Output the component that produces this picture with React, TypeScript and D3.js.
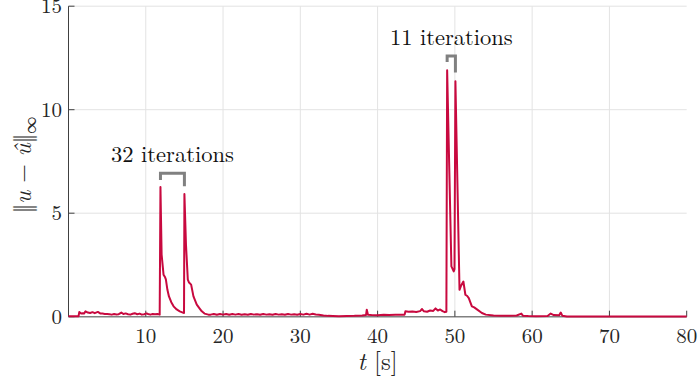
import React from "react";
import * as d3 from "d3";

const time = [
  0, 1.3, 1.4, 1.6, 1.8, 2.0, 2.2, 2.5, 2.8, 3.1, 3.4, 3.8, 4.1, 4.4, 4.7, 5.0, 5.3, 5.6, 5.9, 6.2, 6.5, 6.84, 7.1, 7.4, 7.7, 8.0, 8.3, 8.57, 8.9, 9.2, 9.5, 9.8, 10.1, 10.3, 10.6, 10.9, 11.2, 11.5, 11.8,
  11.9, 12.05, 12.3, 12.5, 12.6, 12.8, 13.0, 13.3, 13.6, 14.0, 14.4, 14.8, 14.95,
  15.0, 15.2, 15.44, 15.6, 15.87, 16.17, 16.6, 17.0, 17.25, 17.6, 18.1,
  18.4, 18.8, 19.2, 19.6, 20.0, 20.4, 20.8, 21.2, 21.6, 22.0, 22.4, 22.8, 23.2, 23.6, 24.0, 24.4, 24.8, 25.2, 25.6, 26.0, 26.4, 26.8, 27.2, 27.6, 28.0, 28.4, 28.8, 29.2, 29.6, 30.0, 30.4, 30.8, 31.2, 31.6, 32.0, 32.4,
  33.0, 33.6, 34.2, 35, 36, 37, 38, 38.5, 38.6, 38.75, 39.2, 40, 40.8, 41.5, 42.3, 43, 43.5,
  43.6, 44, 44.5, 45, 45.5, 45.75, 46, 46.4, 46.8, 47.2, 47.5, 47.8, 48.1, 48.4, 48.7, 48.9,
  49.0, 49.55, 49.85, 49.95, 50.07, 50.6, 50.8, 51.1, 51.36, 51.6, 51.8, 52.2, 52.5, 52.9, 53.5, 54, 55, 56, 57, 58, 58.6, 58.8, 59.5, 60.5, 62, 62.4, 62.8, 63.5, 63.7, 63.9, 64.5, 80,
];

const err = [
  0.02, 0.02, 0.23, 0.16, 0.17, 0.15, 0.26, 0.2, 0.18, 0.22, 0.17, 0.23, 0.16, 0.15, 0.13, 0.13, 0.12, 0.1, 0.13, 0.11, 0.12, 0.2, 0.13, 0.16, 0.12, 0.1, 0.14, 0.17, 0.12, 0.15, 0.1, 0.12, 0.16, 0.13, 0.1, 0.13, 0.12, 0.13, 0.1,
  6.27, 3.0, 2.03, 1.9, 1.8, 1.3, 0.98, 0.7, 0.5, 0.35, 0.26, 0.2, 0.18,
  5.93, 3.5, 1.79, 1.65, 1.55, 0.98, 0.58, 0.38, 0.26, 0.15, 0.1,
  0.1, 0.13, 0.09, 0.13, 0.1, 0.13, 0.09, 0.13, 0.1, 0.13, 0.09, 0.12, 0.09, 0.13, 0.1, 0.12, 0.09, 0.13, 0.1, 0.12, 0.09, 0.13, 0.1, 0.12, 0.09, 0.13, 0.1, 0.12, 0.09, 0.13, 0.1, 0.14, 0.1, 0.14, 0.11, 0.09,
  0.06, 0.04, 0.03, 0.02, 0.03, 0.04, 0.06, 0.08, 0.34, 0.09, 0.08, 0.07, 0.09, 0.08, 0.1, 0.09, 0.1,
  0.26, 0.24, 0.25, 0.23, 0.27, 0.37, 0.26, 0.24, 0.3, 0.28, 0.4, 0.3, 0.35, 0.27, 0.22, 0.24,
  11.9, 2.43, 2.19, 2.3, 11.37, 1.3, 1.5, 1.7, 1.06, 1.0, 0.9, 0.5, 0.45, 0.34, 0.18, 0.1, 0.06, 0.05, 0.05, 0.06, 0.15, 0.05, 0.03, 0.02, 0.03, 0.15, 0.08, 0.07, 0.2, 0.05, 0.01, 0.01,
];

const xTicks = [10, 20, 30, 40, 50, 60, 70, 80];
const yTicks = [0, 5, 10, 15];

const annotations = [
  { label: "32 iterations", t0: 11.9, t1: 15.0, top: 6.93, left: 6.6, right: 6.3 },
  { label: "11 iterations", t0: 49.0, t1: 50.07, top: 12.6, left: 12.3, right: 11.8 },
];

const FONT = "'Latin Modern Roman', 'Liberation Serif', serif";

export default function App() {
  const W = 699, H = 381;
  const x = d3.scaleLinear().domain([0, 80]).range([68.5, 686.7]);
  const y = d3.scaleLinear().domain([0, 15]).range([316.7, 6.2]);
  const pts: [number, number][] = time.map((t, i) => [t, err[i]]);
  const line = d3.line<[number, number]>().x(d => x(d[0])).y(d => y(d[1]));
  const ts = { fontFamily: FONT };
  return (
    <svg width={W} height={H} style={{ position: "absolute", left: 0, top: 0, background: "#fff" }}>
      {xTicks.filter(t => t < 80).map(t => (
        <line key={"gx" + t} x1={x(t)} x2={x(t)} y1={y(15)} y2={y(0)} stroke="#e3e3e3" strokeWidth={1} />
      ))}
      {yTicks.filter(t => t > 0).map(t => (
        <line key={"gy" + t} x1={x(0)} x2={x(80)} y1={y(t)} y2={y(t)} stroke="#e3e3e3" strokeWidth={1} />
      ))}
      <line x1={x(0)} x2={x(80)} y1={y(0)} y2={y(0)} stroke="#808080" strokeWidth={1.5} />
      <line x1={x(0)} x2={x(0)} y1={y(15)} y2={y(0)} stroke="#404040" strokeWidth={1} />
      {xTicks.map(t => (
        <g key={"xt" + t}>
          <line x1={x(t)} x2={x(t)} y1={y(0)} y2={y(0) - 6} stroke="#404040" strokeWidth={1} />
          <text x={x(t)} y={343} textAnchor="middle" fontSize={21} fill="#262626" style={ts}>{t}</text>
        </g>
      ))}
      {yTicks.map(t => (
        <g key={"yt" + t}>
          <line x1={x(0)} x2={x(0) + 6} y1={y(t)} y2={y(t)} stroke="#404040" strokeWidth={1} />
          <text x={62} y={y(t) + 7} textAnchor="end" fontSize={21} fill="#262626" style={ts}>{t}</text>
        </g>
      ))}
      <path d={line(pts) || ""} fill="none" stroke="#c8093f" strokeWidth={2} strokeLinejoin="round" />
      {annotations.map(a => (
        <g key={a.label}>
          <path
            d={`M${x(a.t0)},${y(a.left)} V${y(a.top)} H${x(a.t1)} V${y(a.right)}`}
            fill="none" stroke="#808080" strokeWidth={3}
          />
          <text x={(x(a.t0) + x(a.t1)) / 2} y={y(a.top) - 11} textAnchor="middle" fontSize={22.5} fill="#111" style={ts}>{a.label}</text>
        </g>
      ))}
      <text x={377.6} y={370} textAnchor="middle" fontSize={25} fill="#262626" style={ts}>
        <tspan fontStyle="italic">t</tspan>
        <tspan> [s]</tspan>
      </text>
      <text transform="translate(31,165) rotate(-90)" textAnchor="middle" fontSize={24} fill="#262626" style={ts}>
        <tspan>‖</tspan>
        <tspan fontStyle="italic">u</tspan>
        <tspan> − </tspan>
        <tspan fontStyle="italic">û</tspan>
        <tspan>‖</tspan>
        <tspan fontSize={17} dy={5}>∞</tspan>
      </text>
    </svg>
  );
}
